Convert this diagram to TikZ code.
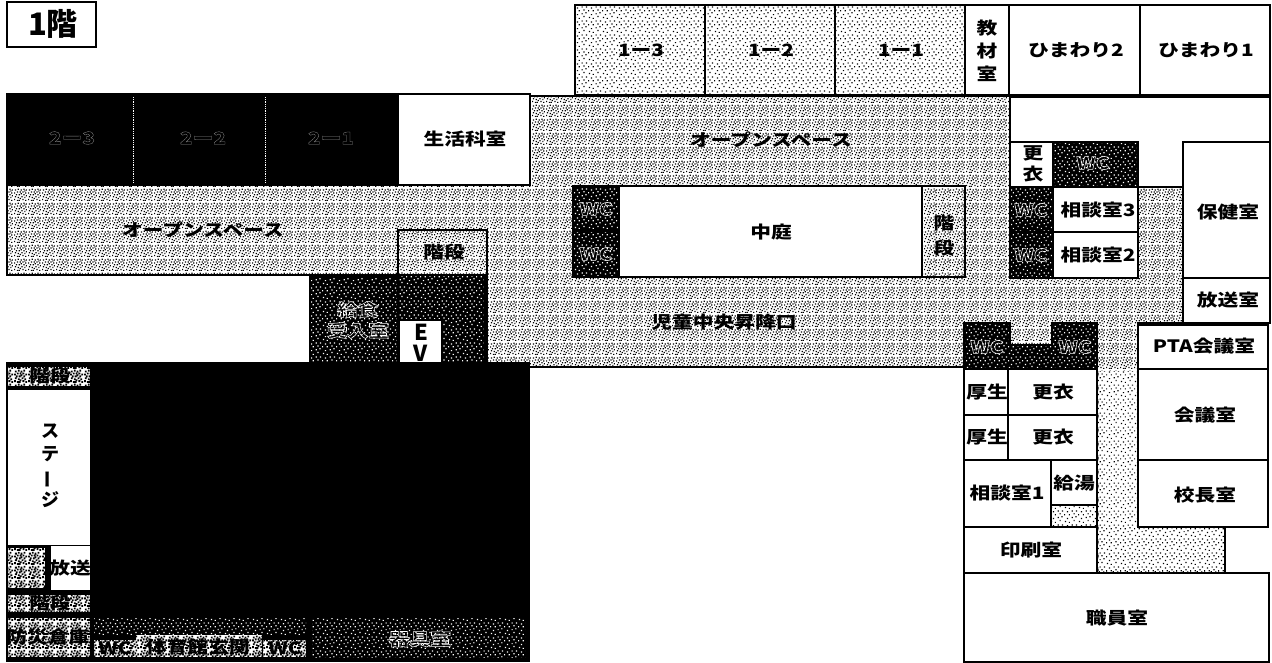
\documentclass[tikz,border=0pt]{standalone}
\usepackage{fontspec}
\setmainfont{Noto Sans CJK JP}[FakeStretch=1.22]
\newfontfamily\jpplain{Noto Sans CJK JP}
\usetikzlibrary{patterns}
\newcommand\dd[2]{\pgfpathrectangle{\pgfqpoint{#1pt}{#2pt}}{\pgfqpoint{1.3pt}{1.3pt}}}
\newcommand\ddd[2]{\pgfpathrectangle{\pgfqpoint{#1pt}{#2pt}}{\pgfqpoint{1.9pt}{1.9pt}}}
\pgfdeclarepatternformonly{noisemid}{\pgfqpoint{0pt}{0pt}}{\pgfqpoint{14pt}{14pt}}{\pgfqpoint{14pt}{14pt}}{%
 \dd{0}{1}\dd{3}{0}\dd{6}{2}\dd{9}{1}\dd{12}{0}\dd{1}{4}\dd{4}{3}\dd{8}{4}\dd{11}{3}\dd{12.6}{5}%
 \dd{2}{6}\dd{5}{6}\dd{7}{7}\dd{10}{6}\dd{0}{8}\dd{3}{9}\dd{6}{9}\dd{9}{9}\dd{12}{8}\dd{1}{11}%
 \dd{4}{12}\dd{7}{11}\dd{10}{12}\dd{12.6}{11}\dd{5}{0}\dd{11}{10}%
 \pgfusepath{fill}}
\pgfdeclarepatternformonly{noisehigh}{\pgfqpoint{0pt}{0pt}}{\pgfqpoint{14pt}{14pt}}{\pgfqpoint{14pt}{14pt}}{%
 \ddd{0}{1}\ddd{3}{0}\ddd{6}{2}\ddd{9}{1}\ddd{12}{0}\ddd{1}{4}\ddd{4}{3}\ddd{8}{4}\ddd{11}{3}%
 \ddd{2}{6}\ddd{5}{6}\ddd{7}{7}\ddd{10}{6}\ddd{0}{8}\ddd{3}{9}\ddd{6}{9}\ddd{9}{9}\ddd{12}{8}\ddd{1}{11}%
 \ddd{4}{12}\ddd{7}{11}\ddd{10}{12}\ddd{5}{0}%
 \pgfusepath{fill}}
\pgfdeclarepatternformonly{noiselow}{\pgfqpoint{0pt}{0pt}}{\pgfqpoint{14pt}{14pt}}{\pgfqpoint{14pt}{14pt}}{%
 \dd{1}{1}\dd{5}{0}\dd{10}{2}\dd{3}{4}\dd{8}{5}\dd{12}{6}\dd{0}{8}\dd{5}{8}\dd{10}{9}\dd{3}{11}\dd{8}{12}\dd{12.6}{12}%
 \pgfusepath{fill}}
\newcommand\outl[1]{\special{pdf:code 1 Tr 0.55 w 1 1 1 RG}#1\special{pdf:code 0 Tr 0 0 0 RG}}
\newcommand\outlf[1]{\special{pdf:code 1 Tr 0.3 w 0.55 0.55 0.55 RG}#1\special{pdf:code 0 Tr 0 0 0 RG}}
\tikzset{
 wall/.style={draw=black,line width=2.2pt,line join=miter},
 white room/.style={wall,fill=white},
 corridor/.style={wall,preaction={fill=white},pattern=noisemid,pattern color=black},
 classroom/.style={wall,preaction={fill=white},pattern=noiselow,pattern color=black},
 dark room/.style={wall,preaction={fill=black},pattern=noiselow,pattern color=white},
 wc room/.style={wall,preaction={fill=black},pattern=noiselow,pattern color=white},
 dense room/.style={wall,preaction={fill=white},pattern=noisehigh,pattern color=black},
 light patch/.style={preaction={fill=white},pattern=noiselow,pattern color=black},
 lab/.style={font=\bfseries\fontsize{17}{23}\selectfont,inner sep=0pt,align=center,text=black},
 outlab/.style={font=\bfseries\fontsize{17}{21}\selectfont,inner sep=0pt,align=center},
}
\begin{document}
\begin{tikzpicture}[x=1pt,y=-1pt]
\useasboundingbox (0,0) rectangle (1272,663);
\fill[white] (0,0) rectangle (1272,663);
% title
\draw[white room] (7,2) rectangle (96,47);
\node[font=\jpplain\bfseries\fontsize{31}{33}\selectfont,inner sep=0pt] (title) at (53,24) {1階};
% corridor
\draw[corridor] (7,185) -- (530,185) -- (530,96) -- (1010,96) -- (1010,187) -- (1183,187) -- (1183,323) -- (1138,323) -- (1138,528) -- (1225,528) -- (1225,573) -- (1097,573) -- (1097,367) -- (487,367) -- (487,275) -- (7,275) -- cycle;
\fill[light patch] (1099,371) rectangle (1137,527);
\fill[light patch] (1099,527) rectangle (1224,571);
\node[lab] (os1) at (203,230) {オープンスペース};
\node[lab] (os2) at (771,140) {オープンスペース};
\node[lab] (entr) at (724,322) {児童中央昇降口};
% left dark classrooms
\draw[wall,fill=black] (7,94) rectangle (398,185);
\draw[white,densely dotted,line width=.8pt] (133,97) -- (133,183);
\draw[white,densely dotted,line width=.8pt] (265,97) -- (265,183);
\node[outlab] (r23) at (72,138) {\outlf{2ー3}};
\node[outlab] (r22) at (203,138) {\outlf{2ー2}};
\node[outlab] (r21) at (331,138) {\outlf{2ー1}};
\draw[white room] (398,94) rectangle (530,185);
\node[lab] (seikatsu) at (465,139) {生活科室};
% stairs + EV block
\draw[corridor] (398,230) rectangle (487,275);
\node[lab] (stairs1) at (444,252) {階段};
\draw[dark room] (398,275) rectangle (485,365);
\draw[white room] (399,320) rectangle (442,365);
\node[font=\jpplain\bfseries\fontsize{22}{21}\selectfont,inner sep=0pt,align=center] (ev) at (421,343) {E\\V};
\draw[dark room] (310,277) rectangle (398,365);
\node[outlab] (kyushoku) at (358,320) {\outl{給食}\\\outl{受入室}};
% classrooms top
\draw[classroom] (575,5) rectangle (705,95);
\draw[classroom] (705,5) rectangle (835,95);
\draw[classroom] (835,5) rectangle (965,95);
\draw[white room] (965,5) rectangle (1009,95);
\draw[white room] (1009,5) rectangle (1140,95);
\draw[white room] (1140,5) rectangle (1270,95);
\node[lab] (c13) at (641,50) {1ー3};
\node[lab] (c12) at (771,50) {1ー2};
\node[lab] (c11) at (901,50) {1ー1};
\node[lab] (kyozai) at (987,51) {教\\材\\室};
\node[lab] (hima2) at (1076,50) {ひまわり2};
\node[lab] (hima1) at (1206,50) {ひまわり1};
% white band top right
\draw[wall] (1010,97) -- (1270,97) -- (1270,142);
% courtyard block
\draw[wall,fill=white] (573,186) rectangle (965,277);
\draw[wc room] (573,186) rectangle (619,231);
\draw[wc room] (573,231) rectangle (619,277);
\node[outlab] (wc1) at (596,209) {\outl{WC}};
\node[outlab] (wc2) at (596,254) {\outl{WC}};
\node[lab] (nakaniwa) at (771,232) {中庭};
\draw[corridor] (922,186) rectangle (965,277);
\node[lab,font=\bfseries\fontsize{17}{25}\selectfont] (stairs2) at (944,236) {階\\段};
% right upper rooms
\draw[white room] (1010,142) rectangle (1053,187);
\node[lab,font=\bfseries\fontsize{17}{21}\selectfont] (koui0) at (1033,164) {更\\衣};
\draw[wc room] (1053,142) rectangle (1138,187);
\node[outlab] (wc3) at (1093,163) {\outl{WC}};
\draw[wc room] (1010,187) rectangle (1053,232);
\draw[wc room] (1010,232) rectangle (1053,278);
\node[outlab] (wc4) at (1031,210) {\outl{WC}};
\node[outlab] (wc5) at (1031,255) {\outl{WC}};
\draw[white room] (1053,187) rectangle (1138,232);
\draw[white room] (1053,232) rectangle (1138,278);
\node[lab] (sodan3) at (1098,210) {相談室3};
\node[lab] (sodan2) at (1098,255) {相談室2};
\draw[white room] (1183,142) rectangle (1270,278);
\node[lab] (hoken) at (1228,212) {保健室};
\draw[white room] (1183,278) rectangle (1270,323);
\node[lab] (hoso) at (1228,300) {放送室};
\draw[white room] (1138,325) rectangle (1268,369);
\node[lab] (pta) at (1204,346) {PTA会議室};
\draw[white room] (1138,369) rectangle (1268,460);
\node[lab] (kaigi) at (1205,415) {会議室};
\draw[white room] (1138,460) rectangle (1268,527);
\node[lab] (kocho) at (1205,495) {校長室};
% WCs lower
\draw[wc room] (964,323) -- (1010,323) -- (1010,345) -- (1052,345) -- (1052,323) -- (1097,323) -- (1097,369) -- (964,369) -- cycle;
\node[outlab] (wc6) at (987,347) {\outl{WC}};
\node[outlab] (wc7) at (1075,347) {\outl{WC}};
% lower rooms
\draw[white room] (964,369) rectangle (1008,415);
\draw[white room] (1008,369) rectangle (1097,415);
\draw[white room] (964,415) rectangle (1008,460);
\draw[white room] (1008,415) rectangle (1097,460);
\node[lab] (kosei1) at (987,392) {厚生};
\node[lab] (koui1) at (1053,392) {更衣};
\node[lab] (kosei2) at (987,437) {厚生};
\node[lab] (koui2) at (1053,437) {更衣};
\draw[white room] (964,460) rectangle (1051,527);
\node[lab] (sodan1) at (1007,493) {相談室1};
\draw[wall,light patch] (1051,505) rectangle (1097,527);
\draw[white room] (1051,460) rectangle (1097,505);
\node[lab] (kyuto) at (1074,483) {給湯};
\draw[white room] (964,527) rectangle (1097,573);
\node[lab] (insatsu) at (1031,550) {印刷室};
\draw[white room] (964,573) rectangle (1269,662);
\node[lab] (shokuin) at (1117,618) {職員室};
% gym
\draw[wall,fill=black] (91,363) rectangle (529,661);
\draw[wall,fill=black] (7,363) rectangle (91,661);
\draw[dense room,draw=none] (8,367) rectangle (90,386);
\node[lab] (stairs3) at (50,376) {階段};
\fill[white] (8,390) rectangle (90,545);
\node[font=\jpplain\bfseries\fontsize{18}{23}\selectfont,inner sep=0pt,align=center] (stage) at (50,466) {ス\\テ\\\rotatebox[origin=c]{90}{ー}\\ジ};
\draw[dense room,draw=none] (8,548) rectangle (45,588);
\fill[white] (51,546) rectangle (90,590);
\node[lab] (hoso2) at (70,568) {放送};
\draw[dense room,draw=none] (8,595) rectangle (90,612);
\node[lab] (stairs4) at (50,603) {階段};
\draw[dense room,draw=none] (8,618) rectangle (90,657);
\node[lab] (bosai) at (48,637) {防災倉庫};
\draw[dark room,draw=none] (94,618) rectangle (306,635);
\draw[dense room,draw=none] (136,635) rectangle (262,657);
\draw[dense room,draw=none] (94,640) rectangle (136,657);
\node[lab] (wc8) at (115,648) {WC};
\node[lab] (genkan) at (198,647) {体育館玄関};
\draw[dense room,draw=none] (263,640) rectangle (306,657);
\node[lab] (wc9) at (285,648) {WC};
\draw[dark room,draw=none] (312,618) rectangle (525,657);
\node[outlab] (kigu) at (420,639) {\outl{器具室}};
\end{tikzpicture}
\end{document}
